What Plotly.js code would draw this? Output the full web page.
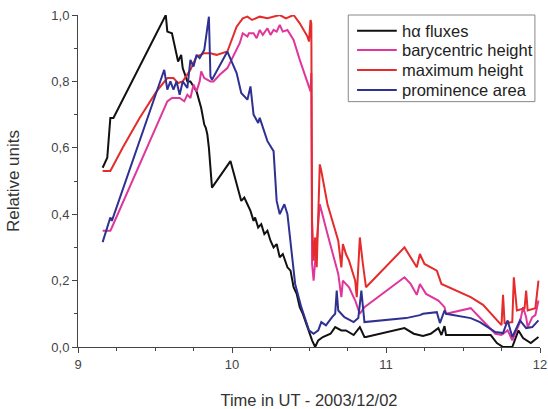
<!DOCTYPE html>
<html>
<head>
<meta charset="utf-8">
<script src="https://cdn.plot.ly/plotly-3.0.1.min.js"></script>
<style>html,body{margin:0;padding:0;background:#fff;}#chart{width:548px;height:409px;}</style>
</head>
<body>
<div id="chart"></div>
<script>
var seriesNames = ["h\u03b1 fluxes", "barycentric height", "maximum height", "prominence area"];

var fluxT = [9.16,9.19,9.21,9.23,9.57,9.58,9.61,9.63,9.65,9.67,9.68,9.71,9.73,9.77,9.79,9.80,9.82,9.83,9.84,9.85,9.87,9.99,10.06,10.08,10.10,10.12,10.14,10.15,10.17,10.19,10.21,10.23,10.25,10.27,10.29,10.31,10.33,10.36,10.38,10.40,10.42,10.44,10.46,10.49,10.50,10.52,10.54,10.56,10.59,10.61,10.64,10.67,10.69,10.71,10.74,10.79,10.83,10.84,10.86,10.87,11.12,11.18,11.24,11.29,11.34,11.36,11.38,11.39,11.55,11.68,11.72,11.76,11.82,11.86,11.89,11.94,11.99];
var fluxV = [0.54,0.57,0.69,0.69,1.00,0.95,0.945,0.90,0.86,0.88,0.84,0.80,0.80,0.77,0.74,0.72,0.67,0.66,0.64,0.60,0.48,0.56,0.44,0.45,0.43,0.41,0.38,0.39,0.36,0.37,0.34,0.35,0.32,0.30,0.31,0.27,0.28,0.24,0.23,0.18,0.16,0.12,0.10,0.06,0.04,0.02,0.0,0.02,0.03,0.035,0.04,0.06,0.055,0.05,0.05,0.036,0.06,0.05,0.03,0.03,0.057,0.04,0.033,0.04,0.057,0.036,0.063,0.036,0.036,0.036,0.012,0.0,0.0,0.05,0.027,0.012,0.03];

var baryT = [9.16,9.21,9.22,9.58,9.61,9.66,9.69,9.71,9.73,9.75,9.77,9.79,9.80,9.82,9.86,9.88,9.92,9.97,10.05,10.07,10.10,10.11,10.14,10.16,10.18,10.20,10.23,10.25,10.27,10.29,10.31,10.33,10.36,10.40,10.44,10.49,10.51,10.515,10.52,10.53,10.54,10.55,10.57,10.62,10.69,10.71,10.72,10.76,10.80,10.83,10.86,11.12,11.16,11.20,11.22,11.26,11.34,11.38,11.39,11.55,11.63,11.71,11.75,11.79,11.82,11.87,11.89,11.91,11.92,11.95,11.97,11.99];
var baryV = [0.35,0.35,0.36,0.74,0.75,0.75,0.74,0.76,0.75,0.79,0.77,0.80,0.83,0.81,0.80,0.80,0.82,0.84,0.915,0.945,0.935,0.945,0.945,0.93,0.955,0.94,0.96,0.94,0.955,0.95,0.97,0.95,0.955,0.925,0.865,0.795,0.77,0.825,0.25,0.20,0.26,0.32,0.43,0.34,0.22,0.15,0.20,0.18,0.14,0.10,0.12,0.21,0.19,0.157,0.19,0.16,0.14,0.12,0.10,0.117,0.08,0.04,0.036,0.05,0.02,0.075,0.12,0.09,0.06,0.09,0.096,0.14];

var maxT = [9.16,9.21,9.29,9.40,9.51,9.58,9.62,9.65,9.68,9.73,9.77,9.82,9.86,9.90,9.97,10.03,10.07,10.10,10.13,10.18,10.23,10.27,10.31,10.35,10.40,10.44,10.49,10.50,10.51,10.515,10.52,10.53,10.54,10.55,10.57,10.58,10.62,10.69,10.71,10.72,10.74,10.76,10.80,10.81,10.83,10.85,10.87,11.12,11.20,11.22,11.25,11.33,11.36,11.55,11.63,11.75,11.76,11.77,11.82,11.83,11.85,11.90,11.91,11.92,11.97,11.99];
var maxV = [0.53,0.53,0.60,0.69,0.77,0.81,0.81,0.795,0.80,0.835,0.875,0.885,0.885,0.88,0.89,0.965,0.99,0.995,0.985,0.995,0.99,0.995,1.0,0.99,1.0,0.975,0.935,0.92,0.985,0.975,0.38,0.26,0.33,0.24,0.55,0.53,0.43,0.32,0.24,0.31,0.28,0.26,0.20,0.15,0.33,0.25,0.18,0.30,0.24,0.28,0.25,0.23,0.19,0.15,0.127,0.066,0.157,0.072,0.075,0.21,0.11,0.117,0.17,0.11,0.117,0.20];

var areaT = [9.16,9.21,9.22,9.56,9.58,9.60,9.62,9.64,9.66,9.68,9.71,9.73,9.75,9.77,9.79,9.82,9.85,9.86,9.87,9.97,10.03,10.06,10.10,10.12,10.14,10.17,10.18,10.23,10.27,10.29,10.31,10.34,10.36,10.41,10.45,10.50,10.53,10.56,10.58,10.61,10.65,10.67,10.68,10.69,10.73,10.79,10.82,10.84,10.86,11.13,11.22,11.24,11.33,11.35,11.38,11.39,11.55,11.61,11.71,11.76,11.79,11.82,11.85,11.87,11.91,11.95,11.99];
var areaV = [0.316,0.39,0.38,0.835,0.775,0.80,0.775,0.80,0.76,0.80,0.78,0.865,0.845,0.88,0.87,0.895,0.995,0.815,0.805,0.89,0.825,0.765,0.745,0.785,0.70,0.675,0.69,0.62,0.59,0.44,0.40,0.43,0.40,0.19,0.12,0.05,0.04,0.05,0.075,0.065,0.09,0.10,0.17,0.11,0.09,0.075,0.087,0.17,0.075,0.087,0.096,0.10,0.105,0.072,0.11,0.10,0.087,0.075,0.045,0.042,0.08,0.03,0.06,0.08,0.057,0.06,0.08];

var colors = ["#111111", "#e0369c", "#e52b2b", "#2e3192"];
var xs = [fluxT, baryT, maxT, areaT];
var ys = [fluxV, baryV, maxV, areaV];

var traces = seriesNames.map(function(n, i) {
  return {x: xs[i], y: ys[i], name: n, type: 'scatter', mode: 'lines',
          line: {color: colors[i], width: 2}};
});

var fam = 'Arial, "Liberation Sans", sans-serif';

// legend drawn in paper coordinates
var shapes = [{type: 'rect', xref: 'paper', yref: 'paper', x0: 0.585, x1: 0.989, y0: 0.739, y1: 1.0,
               line: {color: '#888', width: 1}, fillcolor: '#fff', layer: 'above'}];
var annotations = [];
var rowY = [0.9526, 0.8946, 0.8343, 0.7741];
seriesNames.forEach(function(n, i) {
  shapes.push({type: 'line', xref: 'paper', yref: 'paper', x0: 0.604, x1: 0.690, y0: rowY[i], y1: rowY[i],
               line: {color: colors[i], width: 2}, layer: 'above'});
  annotations.push({xref: 'paper', yref: 'paper', x: 0.697, y: rowY[i], xanchor: 'left', yanchor: 'middle',
                    text: n, showarrow: false, font: {family: fam, size: 16.5, color: '#222'}});
});

var layout = {
  width: 548, height: 409,
  margin: {l: 78, r: 8, t: 15, b: 62},
  paper_bgcolor: '#fff', plot_bgcolor: '#fff',
  separators: ',.',
  font: {family: fam, size: 12, color: '#333'},
  showlegend: false,
  shapes: shapes,
  annotations: annotations,
  xaxis: {range: [9, 12], tickvals: [9, 10, 11, 12], ticktext: ['9', '10', '11', '12'],
          showgrid: false, zeroline: false, showline: true, linecolor: '#444', linewidth: 1,
          ticks: 'outside', ticklen: 5, tickcolor: '#444',
          minor: {dtick: 0.25, ticks: 'outside', ticklen: 3, tickcolor: '#444', showgrid: false},
          tickfont: {family: fam, size: 13, color: '#444'},
          title: {text: 'Time in UT - 2003/12/02', font: {family: fam, size: 16.5, color: '#333'}, standoff: 26}},
  yaxis: {range: [0, 1], dtick: 0.2, tick0: 0, tickformat: '.1f',
          showgrid: false, zeroline: false, showline: true, linecolor: '#444', linewidth: 1,
          ticks: 'outside', ticklen: 5, tickcolor: '#444',
          minor: {dtick: 0.1, ticks: 'outside', ticklen: 3, tickcolor: '#444', showgrid: false},
          tickfont: {family: fam, size: 13, color: '#444'},
          title: {text: 'Relative units', font: {family: fam, size: 17, color: '#333'}, standoff: 27}}
};

Plotly.newPlot('chart', traces, layout, {displayModeBar: false, staticPlot: true});
</script>
</body>
</html>
